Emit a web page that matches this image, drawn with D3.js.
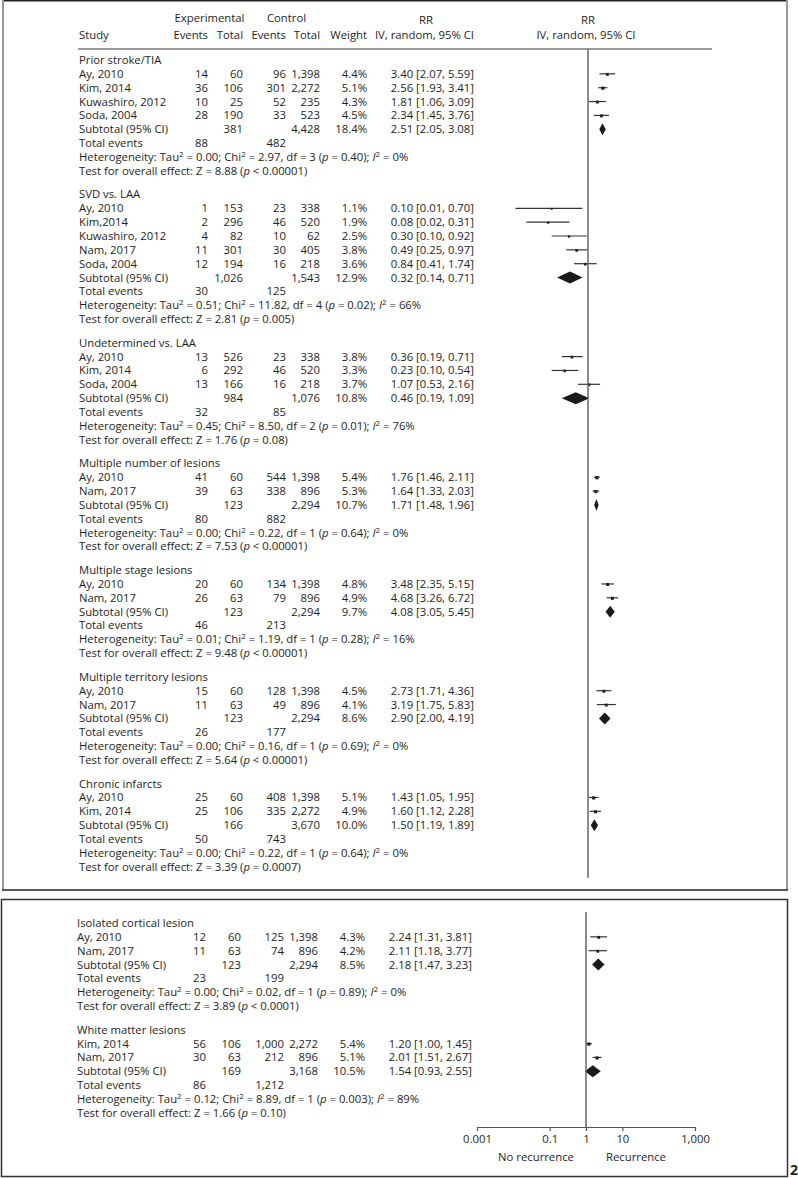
<!DOCTYPE html>
<html>
<head>
<meta charset="utf-8">
<script src="https://cdn.jsdelivr.net/npm/d3@7"></script>
<style>
  body { margin: 0; background: #fff; }
  svg text { font-family: "Open Sans", "Noto Sans", sans-serif; font-size: 11.3px; fill: #1e1e1e; }
</style>
</head>
<body>
<div id="chart"></div>
<script>
// chart size + layout constants
const WIDTH = 798;
const HEIGHT = 1178;
const ROW_H = 13.85;
const GROUP_GAP = 9.8;
const COLS = { study: 79, expE: 208, expT: 243, ctlE: 286, ctlT: 320, weight: 367, ci: 474 };

// subgroups
const groupNames = ["Prior stroke/TIA", "SVD vs. LAA", "Undetermined vs. LAA", "Multiple number of lesions",
  "Multiple stage lesions", "Multiple territory lesions", "Chronic infarcts",
  "Isolated cortical lesion", "White matter lesions"];
const groupPanel = [0, 0, 0, 0, 0, 0, 0, 1, 1];

// studies
const studyGroup = [0, 0, 0, 0, 1, 1, 1, 1, 1, 2, 2, 2, 3, 3, 4, 4, 5, 5, 6, 6, 7, 7, 8, 8];
const studyNames = ["Ay, 2010", "Kim, 2014", "Kuwashiro, 2012", "Soda, 2004",
  "Ay, 2010", "Kim,2014", "Kuwashiro, 2012", "Nam, 2017", "Soda, 2004",
  "Ay, 2010", "Kim, 2014", "Soda, 2004",
  "Ay, 2010", "Nam, 2017", "Ay, 2010", "Nam, 2017", "Ay, 2010", "Nam, 2017",
  "Ay, 2010", "Kim, 2014", "Ay, 2010", "Nam, 2017", "Kim, 2014", "Nam, 2017"];
const expEvents = [14, 36, 10, 28, 1, 2, 4, 11, 12, 13, 6, 13, 41, 39, 20, 26, 15, 11, 25, 25, 12, 11, 56, 30];
const expTotals = [60, 106, 25, 190, 153, 296, 82, 301, 194, 526, 292, 166, 60, 63, 60, 63, 60, 63, 60, 106, 60, 63, 106, 63];
const ctlEvents = [96, 301, 52, 33, 23, 46, 10, 30, 16, 23, 46, 16, 544, 338, 134, 79, 128, 49, 408, 335, 125, 74, 1000, 212];
const ctlTotals = [1398, 2272, 235, 523, 338, 520, 62, 405, 218, 338, 520, 218, 1398, 896, 1398, 896, 1398, 896, 1398, 2272, 1398, 896, 2272, 896];
const weights = [4.4, 5.1, 4.3, 4.5, 1.1, 1.9, 2.5, 3.8, 3.6, 3.8, 3.3, 3.7, 5.4, 5.3, 4.8, 4.9, 4.5, 4.1, 5.1, 4.9, 4.3, 4.2, 5.4, 5.1];
const rrEst = [3.40, 2.56, 1.81, 2.34, 0.10, 0.08, 0.30, 0.49, 0.84, 0.36, 0.23, 1.07, 1.76, 1.64, 3.48, 4.68, 2.73, 3.19, 1.43, 1.60, 2.24, 2.11, 1.20, 2.01];
const rrLow = [2.07, 1.93, 1.06, 1.45, 0.01, 0.02, 0.10, 0.25, 0.41, 0.19, 0.10, 0.53, 1.46, 1.33, 2.35, 3.26, 1.71, 1.75, 1.05, 1.12, 1.31, 1.18, 1.00, 1.51];
const rrHigh = [5.59, 3.41, 3.09, 3.76, 0.70, 0.31, 0.92, 0.97, 1.74, 0.71, 0.54, 2.16, 2.11, 2.03, 5.15, 6.72, 4.36, 5.83, 1.95, 2.28, 3.81, 3.77, 1.45, 2.67];

// subtotals
const subExpTotal = [381, 1026, 984, 123, 123, 123, 166, 123, 169];
const subCtlTotal = [4428, 1543, 1076, 2294, 2294, 2294, 3670, 2294, 3168];
const subWeight = [18.4, 12.9, 10.8, 10.7, 9.7, 8.6, 10.0, 8.5, 10.5];
const subRR = [2.51, 0.32, 0.46, 1.71, 4.08, 2.90, 1.50, 2.18, 1.54];
const subLow = [2.05, 0.14, 0.19, 1.48, 3.05, 2.00, 1.19, 1.47, 0.93];
const subHigh = [3.08, 0.71, 1.09, 1.96, 5.45, 4.19, 1.89, 3.23, 2.55];
const subExpEvents = [88, 30, 32, 80, 46, 26, 50, 23, 86];
const subCtlEvents = [482, 125, 85, 882, 213, 177, 743, 199, 1212];

// heterogeneity + overall effect
const tau2 = ["0.00", "0.51", "0.45", "0.00", "0.01", "0.00", "0.00", "0.00", "0.12"];
const chi2 = ["2.97", "11.82", "8.50", "0.22", "1.19", "0.16", "0.22", "0.02", "8.89"];
const hetDf = [3, 4, 2, 1, 1, 1, 1, 1, 1];
const hetP = ["0.40", "0.02", "0.01", "0.64", "0.28", "0.69", "0.64", "0.89", "0.003"];
const i2 = [0, 66, 76, 0, 16, 0, 0, 0, 89];
const testZ = ["8.88", "2.81", "1.76", "7.53", "9.48", "5.64", "3.39", "3.89", "1.66"];
const testP = ["< 0.00001", "= 0.005", "= 0.08", "< 0.00001", "< 0.00001", "< 0.00001", "= 0.0007", "< 0.0001", "= 0.10"];

// axis
const tickValues = [0.001, 0.1, 1, 10, 1000];
const tickLabels = ["0.001", "0.1", "1", "10", "1,000"];

const fmtN = d3.format(",");
const fmt2 = d3.format(".2f");
const fmtW = d => d3.format(".1f")(d) + "%";

let svg, x;

setup();

function setup () {
  svg = d3.select("#chart")
    .append("svg")
    .attr("width", WIDTH)
    .attr("height", HEIGHT);

  x = d3.scaleLog()
    .domain([0.001, 1000])
    .range([479, 697]);

  drawFrames();
  drawHeader();

  // panel 0 at top, panel 1 below (shifted 2px left like the original)
  const top = svg.append("g");
  const bottom = svg.append("g").attr("transform", "translate(-2,0)");

  drawPanel(top, 0, 60);
  drawPanel(bottom, 1, 923);

  // null lines
  top.append("line")
    .attr("x1", x(1)).attr("x2", x(1))
    .attr("y1", 49).attr("y2", 878)
    .attr("stroke", "#666").attr("stroke-width", 1.5);
  bottom.append("line")
    .attr("x1", x(1)).attr("x2", x(1))
    .attr("y1", 912).attr("y2", 1127)
    .attr("stroke", "#666").attr("stroke-width", 1.5);

  drawAxis(bottom);

  // figure number, cut at page edge
  svg.append("text")
    .attr("x", 790).attr("y", 1175)
    .style("font-size", "14px").style("font-weight", "bold")
    .text("2");
}

function drawFrames () {
  svg.append("line").attr("x1", 2).attr("x2", 788).attr("y1", 0.75).attr("y2", 0.75)
    .attr("stroke", "#222").attr("stroke-width", 1.5);
  svg.append("line").attr("x1", 3).attr("x2", 3).attr("y1", 0).attr("y2", 890)
    .attr("stroke", "#999").attr("stroke-width", 2);
  svg.append("line").attr("x1", 787).attr("x2", 787).attr("y1", 0).attr("y2", 890)
    .attr("stroke", "#999").attr("stroke-width", 2);
  svg.append("line").attr("x1", 2).attr("x2", 788).attr("y1", 890).attr("y2", 890)
    .attr("stroke", "#222").attr("stroke-width", 1.5);

  svg.append("rect")
    .attr("x", 1.5).attr("y", 899.5)
    .attr("width", 786).attr("height", 277)
    .attr("fill", "none")
    .attr("stroke", "#333").attr("stroke-width", 1.5);
}

function addText (g, xPos, y, str, anchor) {
  return g.append("text")
    .attr("x", xPos)
    .attr("y", y)
    .attr("dy", "0.35em")
    .attr("text-anchor", anchor || "start")
    .text(str);
}

function drawHeader () {
  const g = svg.append("g");
  addText(g, (176 + COLS.expT) / 2, 18, "Experimental", "middle");
  addText(g, (253 + COLS.ctlT) / 2, 18, "Control", "middle");
  addText(g, 426, 20, "RR", "middle");
  addText(g, COLS.study, 35, "Study");
  addText(g, COLS.expE, 35, "Events", "end");
  addText(g, COLS.expT, 35, "Total", "end");
  addText(g, COLS.ctlE, 35, "Events", "end");
  addText(g, COLS.ctlT, 35, "Total", "end");
  addText(g, COLS.weight, 35, "Weight", "end");
  addText(g, COLS.ci, 35, "IV, random, 95% CI", "end");
  addText(g, x(1), 20, "RR", "middle");
  addText(g, x(1) - 2, 35, "IV, random, 95% CI", "middle");

  g.append("line")
    .attr("x1", 78).attr("x2", 712)
    .attr("y1", 49).attr("y2", 49)
    .attr("stroke", "#777").attr("stroke-width", 1.5);
}

// text with superscripts / italics, parts = [[str, style], ...]
function richText (g, xPos, y, parts) {
  const t = g.append("text").attr("x", xPos).attr("y", y).attr("dy", "0.35em");
  let raised = false;
  parts.forEach(p => {
    const s = t.append("tspan").text(p[0]);
    if (p[1] === "sup") {
      s.style("font-size", "8px").attr("dy", -4);
      raised = true;
    } else {
      if (raised) { s.attr("dy", 4); raised = false; }
      if (p[1] === "i") s.style("font-style", "italic");
    }
  });
}

function drawPanel (g, panel, startY) {
  let y = startY;
  groupNames.forEach((name, gi) => {
    if (groupPanel[gi] !== panel) return;

    addText(g, COLS.study, y, name);
    y += ROW_H;

    // studies in this group
    studyGroup.forEach((sg, i) => {
      if (sg !== gi) return;
      addText(g, COLS.study, y, studyNames[i]);
      addText(g, COLS.expE, y, fmtN(expEvents[i]), "end");
      addText(g, COLS.expT, y, fmtN(expTotals[i]), "end");
      addText(g, COLS.ctlE, y, fmtN(ctlEvents[i]), "end");
      addText(g, COLS.ctlT, y, fmtN(ctlTotals[i]), "end");
      addText(g, COLS.weight, y, fmtW(weights[i]), "end");
      addText(g, COLS.ci, y, `${fmt2(rrEst[i])} [${fmt2(rrLow[i])}, ${fmt2(rrHigh[i])}]`, "end");

      g.append("line")
        .attr("x1", x(rrLow[i])).attr("x2", x(rrHigh[i]))
        .attr("y1", y).attr("y2", y)
        .attr("stroke", "#333").attr("stroke-width", 1.2);
      const side = 1.6 + weights[i] * 0.3;
      g.append("rect")
        .attr("x", x(rrEst[i]) - side / 2)
        .attr("y", y - side / 2 + 0.5)
        .attr("width", side).attr("height", side)
        .attr("fill", "#222");
      y += ROW_H;
    });

    // subtotal
    addText(g, COLS.study, y, "Subtotal (95% CI)");
    addText(g, COLS.expT, y, fmtN(subExpTotal[gi]), "end");
    addText(g, COLS.ctlT, y, fmtN(subCtlTotal[gi]), "end");
    addText(g, COLS.weight, y, fmtW(subWeight[gi]), "end");
    addText(g, COLS.ci, y, `${fmt2(subRR[gi])} [${fmt2(subLow[gi])}, ${fmt2(subHigh[gi])}]`, "end");
    const pts = [[x(subLow[gi]), y], [x(subRR[gi]), y - 6], [x(subHigh[gi]), y], [x(subRR[gi]), y + 6]];
    g.append("path")
      .attr("d", d3.line()(pts) + "Z")
      .attr("fill", "#1a1a1a");
    y += ROW_H;

    addText(g, COLS.study, y, "Total events");
    addText(g, COLS.expE, y, fmtN(subExpEvents[gi]), "end");
    addText(g, COLS.ctlE, y, fmtN(subCtlEvents[gi]), "end");
    y += ROW_H;

    richText(g, COLS.study, y, [
      ["Heterogeneity: Tau"], ["2", "sup"], [` = ${tau2[gi]}; Chi`], ["2", "sup"],
      [` = ${chi2[gi]}, df = ${hetDf[gi]} (`], ["p", "i"], [` = ${hetP[gi]}); `],
      ["I", "i"], ["2", "sup"], [` = ${i2[gi]}%`]
    ]);
    y += ROW_H;

    richText(g, COLS.study, y, [
      [`Test for overall effect: Z = ${testZ[gi]} (`], ["p", "i"], [` ${testP[gi]})`]
    ]);
    y += ROW_H + GROUP_GAP;
  });
}

function drawAxis (g) {
  const axis = d3.axisBottom(x)
    .tickValues(tickValues)
    .tickFormat((d, i) => tickLabels[i])
    .tickSize(4)
    .tickSizeOuter(0)
    .tickPadding(4);

  const ax = g.append("g")
    .attr("class", "x-axis")
    .attr("transform", "translate(0,1127)")
    .call(axis);
  ax.selectAll("line, path").attr("stroke", "#555").attr("stroke-width", 1.2);
  ax.selectAll("text")
    .style("font-family", "'Open Sans', sans-serif")
    .style("font-size", "11.3px")
    .attr("fill", "#1e1e1e");

  addText(g, x(1) - 50, 1157, "No recurrence", "middle");
  addText(g, x(1) + 50, 1157, "Recurrence", "middle");
}
</script>
</body>
</html>
